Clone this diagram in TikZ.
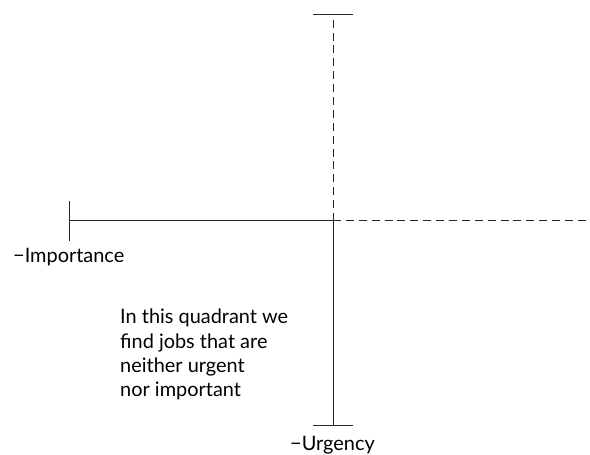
\documentclass[tikz,border=0pt]{standalone}
\usepackage{fontspec}
\setmainfont{Lato}
\usetikzlibrary{calc}

\begin{document}
\begin{tikzpicture}[
    x=0.03cm, y=0.03cm,
    axis/.style={line width=0.85pt, black!85},
    dashaxis/.style={axis, dash pattern=on 6.8pt off 4.2pt},
    endtick/.style={line width=0.85pt, black!85},
    label/.style={font=\fontsize{17}{20.6}\selectfont, inner sep=0pt}
]
\useasboundingbox (0,0) rectangle (590,455);

% axes meet here
\coordinate (O) at (333,234);
\coordinate (top) at (333,440);
\coordinate (bottom) at (333,29);
\coordinate (left) at (69,234);
\coordinate (right) at (590,234);

% solid halves
\draw[axis] (left) -- (O);
\draw[axis] (O) -- (bottom);

% dashed halves
\draw[dashaxis] (O) -- (top);
\draw[dashaxis] (O) -- (right);

% end ticks
\draw[endtick] ($(top)+(-20,0)$) -- ($(top)+(20,0)$);
\draw[endtick] ($(bottom)+(-20,0)$) -- ($(bottom)+(20,0)$);
\draw[endtick] ($(left)+(0,-20)$) -- ($(left)+(0,20)$);

% labels
\node[label, anchor=base west] (importance) at (13,192) {−Importance};
\node[label, anchor=base west] (urgency) at (290,4) {−Urgency};
\node[label, anchor=north west, align=left] (quadrant) at (120,146)
    {In this quadrant we\\find jobs that are\\neither urgent\\nor important};

\end{tikzpicture}
\end{document}
